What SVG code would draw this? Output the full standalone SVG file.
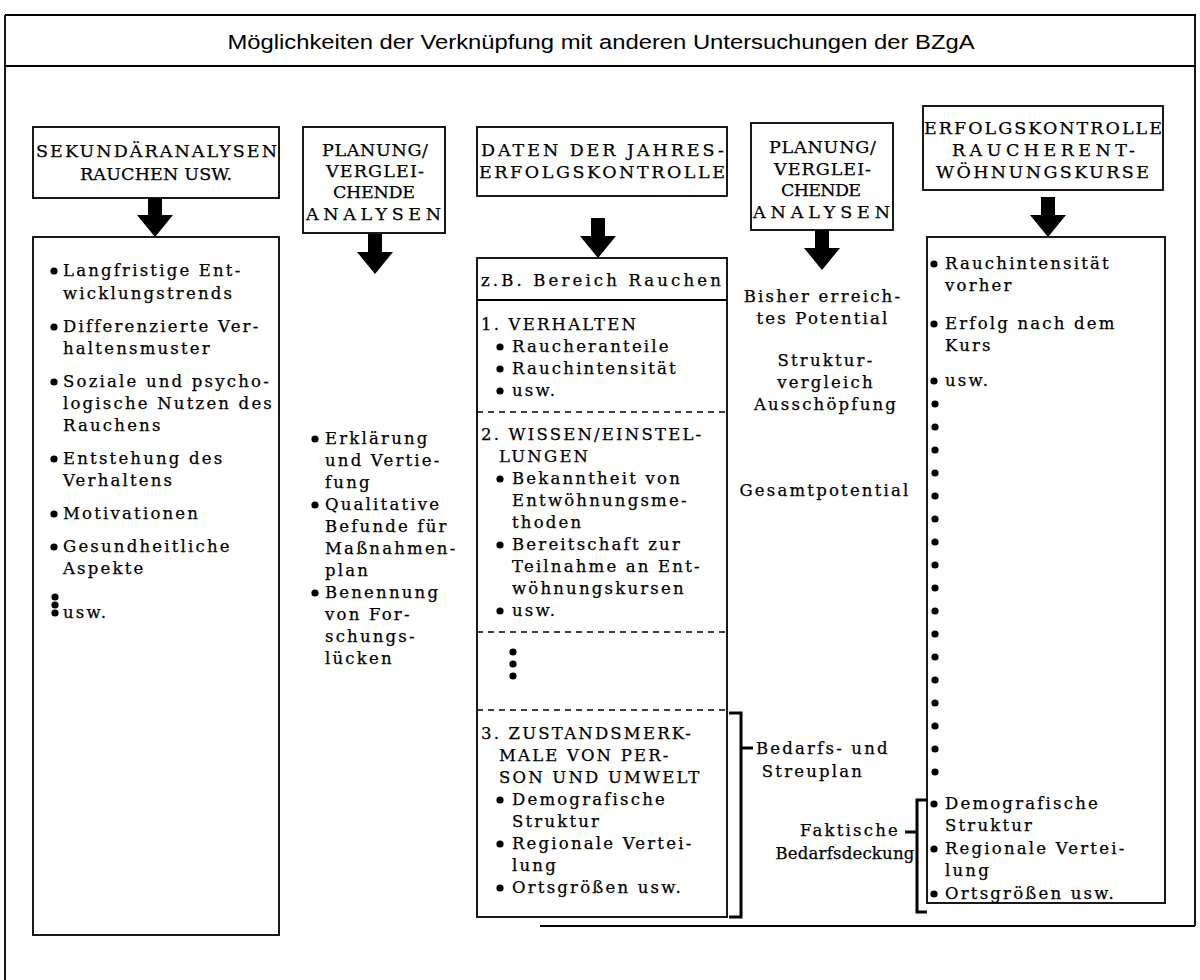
<svg xmlns="http://www.w3.org/2000/svg" xmlns:xlink="http://www.w3.org/1999/xlink" width="1200" height="980" viewBox="0 0 1200 980">
<style>
.t{font-family:"DejaVu Serif","Liberation Serif",serif;font-size:16.5px;letter-spacing:2.2px;fill:#000;stroke:#000;stroke-width:0.25}
.h{font-family:"DejaVu Serif","Liberation Serif",serif;font-size:17.5px;fill:#000;stroke:#000;stroke-width:0.25}
.c{text-anchor:middle}
.title{font-family:"Liberation Sans","DejaVu Sans",sans-serif;font-size:20px;fill:#000}
.box{fill:#fff;stroke:#000;stroke-width:1.8}
.ln{fill:none;stroke:#000;stroke-width:1.8}
.dash{fill:none;stroke:#000;stroke-width:1.5;stroke-dasharray:6 5}
.br{fill:none;stroke:#000;stroke-width:3}
</style>
<defs>
<polygon id="arr" points="-7,-40 7,-40 7,-22 18,-22 0,0 -18,-22 -7,-22" fill="#000"/>
<circle id="b" r="3.6" fill="#000"/>
</defs>
<rect width="1200" height="980" fill="#fff"/>

<g id="frame">
<path class="ln" d="M5,15 H1196 M5,66 H1196 M5,15 V980 M1195,15 V926 M540,926 H1195"/>
<text class="title c" x="601" y="49" textLength="747" lengthAdjust="spacingAndGlyphs">Möglichkeiten der Verknüpfung mit anderen Untersuchungen der BZgA</text>
</g>

<g id="connectors">
<use xlink:href="#arr" x="155" y="237"/>
<use xlink:href="#arr" x="375" y="274"/>
<use xlink:href="#arr" x="598" y="258"/>
<use xlink:href="#arr" x="822" y="270"/>
<use xlink:href="#arr" x="1048" y="237"/>
<path class="br" d="M729,713 H741 V917 H729 M741,748 H753"/>
<path class="br" d="M927,800 H917 V912 H927 M905,832 H917"/>
</g>

<g id="n1-head">
<rect class="box" x="33" y="127" width="246" height="71"/>
<text class="h" x="36" y="157" textLength="241" lengthAdjust="spacing">SEKUNDÄRANALYSEN</text>
<text class="h" x="80" y="180" textLength="152" lengthAdjust="spacing">RAUCHEN USW.</text>
</g>

<g id="n1-body">
<rect class="box" x="33" y="237" width="246" height="698"/>
<use xlink:href="#b" x="54" y="271"/>
<text class="t" x="63" y="276">Langfristige Ent-</text>
<text class="t" x="63" y="299">wicklungstrends</text>
<use xlink:href="#b" x="54" y="327"/>
<text class="t" x="63" y="332">Differenzierte Ver-</text>
<text class="t" x="63" y="354">haltensmuster</text>
<use xlink:href="#b" x="54" y="382"/>
<text class="t" x="63" y="387">Soziale und psycho-</text>
<text class="t" x="63" y="409">logische Nutzen des</text>
<text class="t" x="63" y="431">Rauchens</text>
<use xlink:href="#b" x="54" y="459"/>
<text class="t" x="63" y="464">Entstehung des</text>
<text class="t" x="63" y="486">Verhaltens</text>
<use xlink:href="#b" x="54" y="514"/>
<text class="t" x="63" y="519">Motivationen</text>
<use xlink:href="#b" x="54" y="547"/>
<text class="t" x="63" y="552">Gesundheitliche</text>
<text class="t" x="63" y="574">Aspekte</text>
<use xlink:href="#b" x="55" y="597"/>
<use xlink:href="#b" x="55" y="605"/>
<use xlink:href="#b" x="55" y="613"/>
<text class="t" x="63" y="618">usw.</text>
</g>

<g id="n2-head">
<rect class="box" x="303" y="127" width="142" height="106"/>
<text class="h" x="322" y="156" textLength="106" lengthAdjust="spacing">PLANUNG/</text>
<text class="h" x="326" y="177" textLength="98" lengthAdjust="spacing">VERGLEI-</text>
<text class="h" x="333" y="198" textLength="82" lengthAdjust="spacing">CHENDE</text>
<text class="h" x="306" y="220" textLength="135" lengthAdjust="spacing">ANALYSEN</text>
</g>

<g id="n2-body">
<use xlink:href="#b" x="315" y="439"/>
<text class="t" x="325" y="444">Erklärung</text>
<text class="t" x="325" y="466">und Vertie-</text>
<text class="t" x="325" y="488">fung</text>
<use xlink:href="#b" x="315" y="505"/>
<text class="t" x="325" y="510">Qualitative</text>
<text class="t" x="325" y="532">Befunde für</text>
<text class="t" x="325" y="554">Maßnahmen-</text>
<text class="t" x="325" y="576">plan</text>
<use xlink:href="#b" x="315" y="593"/>
<text class="t" x="325" y="598">Benennung</text>
<text class="t" x="325" y="620">von For-</text>
<text class="t" x="325" y="642">schungs-</text>
<text class="t" x="325" y="664">lücken</text>
</g>

<g id="n3-head">
<rect class="box" x="477" y="127" width="250" height="69"/>
<text class="h" x="481" y="156" textLength="243" lengthAdjust="spacing">DATEN DER JAHRES-</text>
<text class="h" x="479" y="178" textLength="246" lengthAdjust="spacing">ERFOLGSKONTROLLE</text>
</g>

<g id="n3-body">
<rect class="box" x="477" y="258" width="250" height="659"/>
<path class="ln" d="M477,300 H727"/>
<path class="dash" d="M477,412 H727 M477,632 H727 M477,710 H727"/>
<text class="t" x="481" y="286" textLength="242" lengthAdjust="spacing">z.B.  Bereich Rauchen</text>
<text class="t" x="481" y="330">1. VERHALTEN</text>
<use xlink:href="#b" x="500" y="347"/>
<text class="t" x="512" y="352">Raucheranteile</text>
<use xlink:href="#b" x="500" y="369"/>
<text class="t" x="512" y="374">Rauchintensität</text>
<use xlink:href="#b" x="500" y="391"/>
<text class="t" x="512" y="396">usw.</text>
<text class="t" x="481" y="440">2. WISSEN/EINSTEL-</text>
<text class="t" x="499" y="462">LUNGEN</text>
<use xlink:href="#b" x="500" y="479"/>
<text class="t" x="512" y="484">Bekanntheit von</text>
<text class="t" x="512" y="506">Entwöhnungsme-</text>
<text class="t" x="512" y="528">thoden</text>
<use xlink:href="#b" x="500" y="545"/>
<text class="t" x="512" y="550">Bereitschaft zur</text>
<text class="t" x="512" y="572">Teilnahme an Ent-</text>
<text class="t" x="512" y="594">wöhnungskursen</text>
<use xlink:href="#b" x="500" y="611"/>
<text class="t" x="512" y="616">usw.</text>
<use xlink:href="#b" x="513" y="652"/>
<use xlink:href="#b" x="513" y="664"/>
<use xlink:href="#b" x="513" y="676"/>
<text class="t" x="481" y="739">3. ZUSTANDSMERK-</text>
<text class="t" x="499" y="761">MALE VON PER-</text>
<text class="t" x="499" y="783">SON UND UMWELT</text>
<use xlink:href="#b" x="500" y="800"/>
<text class="t" x="512" y="805">Demografische</text>
<text class="t" x="512" y="827">Struktur</text>
<use xlink:href="#b" x="500" y="844"/>
<text class="t" x="512" y="849">Regionale Vertei-</text>
<text class="t" x="512" y="871">lung</text>
<use xlink:href="#b" x="500" y="888"/>
<text class="t" x="512" y="893">Ortsgrößen usw.</text>
</g>

<g id="n4-head">
<rect class="box" x="751" y="123" width="142" height="107"/>
<text class="h" x="769" y="153" textLength="107" lengthAdjust="spacing">PLANUNG/</text>
<text class="h" x="774" y="175" textLength="97" lengthAdjust="spacing">VERGLEI-</text>
<text class="h" x="781" y="196" textLength="80" lengthAdjust="spacing">CHENDE</text>
<text class="h" x="753" y="218" textLength="137" lengthAdjust="spacing">ANALYSEN</text>
</g>

<g id="n4-body">
<text class="t c" x="823" y="302">Bisher erreich-</text>
<text class="t c" x="823" y="324">tes Potential</text>
<text class="t c" x="826" y="366">Struktur-</text>
<text class="t c" x="826" y="388">vergleich</text>
<text class="t c" x="826" y="410">Ausschöpfung</text>
<text class="t c" x="825" y="496">Gesamtpotential</text>
<text class="t" x="756" y="754">Bedarfs- und</text>
<text class="t c" x="813" y="777">Streuplan</text>
<text class="t c" x="850" y="836">Faktische</text>
<text class="t c" x="845" y="859" style="letter-spacing:0.2px">Bedarfsdeckung</text>
</g>

<g id="n5-head">
<rect class="box" x="923" y="106" width="240" height="84"/>
<text class="h" x="924" y="134" textLength="238" lengthAdjust="spacing">ERFOLGSKONTROLLE</text>
<text class="h" x="952" y="156" textLength="183" lengthAdjust="spacing">RAUCHERENT-</text>
<text class="h" x="936" y="178" textLength="213" lengthAdjust="spacing">WÖHNUNGSKURSE</text>
</g>

<g id="n5-body">
<rect class="box" x="927" y="237" width="238" height="666"/>
<use xlink:href="#b" x="934" y="264"/>
<text class="t" x="945" y="269">Rauchintensität</text>
<text class="t" x="945" y="291">vorher</text>
<use xlink:href="#b" x="934" y="324"/>
<text class="t" x="945" y="329">Erfolg nach dem</text>
<text class="t" x="945" y="351">Kurs</text>
<use xlink:href="#b" x="934" y="381"/>
<text class="t" x="945" y="386">usw.</text>
<use xlink:href="#b" x="935" y="404"/>
<use xlink:href="#b" x="935" y="427"/>
<use xlink:href="#b" x="935" y="450"/>
<use xlink:href="#b" x="935" y="473"/>
<use xlink:href="#b" x="935" y="496"/>
<use xlink:href="#b" x="935" y="519"/>
<use xlink:href="#b" x="935" y="542"/>
<use xlink:href="#b" x="935" y="565"/>
<use xlink:href="#b" x="935" y="588"/>
<use xlink:href="#b" x="935" y="611"/>
<use xlink:href="#b" x="935" y="634"/>
<use xlink:href="#b" x="935" y="657"/>
<use xlink:href="#b" x="935" y="680"/>
<use xlink:href="#b" x="935" y="703"/>
<use xlink:href="#b" x="935" y="726"/>
<use xlink:href="#b" x="935" y="749"/>
<use xlink:href="#b" x="935" y="772"/>
<use xlink:href="#b" x="934" y="804"/>
<text class="t" x="945" y="809">Demografische</text>
<text class="t" x="945" y="831">Struktur</text>
<use xlink:href="#b" x="934" y="849"/>
<text class="t" x="945" y="854">Regionale Vertei-</text>
<text class="t" x="945" y="876">lung</text>
<use xlink:href="#b" x="934" y="894"/>
<text class="t" x="945" y="899">Ortsgrößen usw.</text>
</g>
</svg>
